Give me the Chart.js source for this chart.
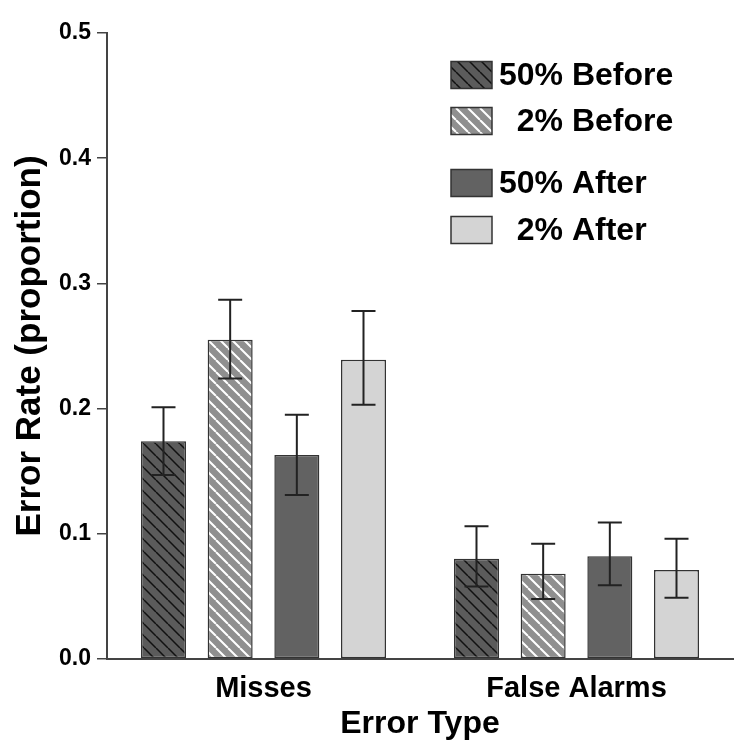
<!DOCTYPE html>
<html>
<head>
<meta charset="utf-8">
<script src="https://cdn.jsdelivr.net/npm/chart.js@4.4.1/dist/chart.umd.min.js"></script>
<style>
    html, body { margin: 0; padding: 0; background: #fff; }
    #wrap { width: 750px; height: 756px; position: relative; }
</style>
</head>
<body>
<div id="wrap"><canvas id="errorChart"></canvas></div>
<script>
// Chart data
const categories = ['Misses', 'False Alarms'];
const seriesLabels = ['50% Before', '2% Before', '50% After', '2% After'];

const fiftyBefore = [0.174, 0.080];
const twoBefore = [0.255, 0.068];
const fiftyAfter = [0.163, 0.082];
const twoAfter = [0.239, 0.071];

// error bar ends (lower / upper)
const fiftyBeforeLow = [0.147, 0.058];
const fiftyBeforeHigh = [0.201, 0.106];
const twoBeforeLow = [0.224, 0.048];
const twoBeforeHigh = [0.287, 0.092];
const fiftyAfterLow = [0.131, 0.059];
const fiftyAfterHigh = [0.195, 0.109];
const twoAfterLow = [0.203, 0.049];
const twoAfterHigh = [0.278, 0.096];

const yTicks = [0.0, 0.1, 0.2, 0.3, 0.4, 0.5];

const FONT = "'Liberation Sans', Arial, sans-serif";
const AXIS_COLOR = '#444';

function makeHatch(bg, lineColor, lineWidth) {
    const s = 12;
    const c = document.createElement('canvas');
    c.width = s;
    c.height = s;
    const g = c.getContext('2d');
    g.fillStyle = bg;
    g.fillRect(0, 0, s, s);
    g.strokeStyle = lineColor;
    g.lineWidth = lineWidth;
    g.beginPath();
    for (let k = -1; k <= 1; k++) {
        g.moveTo(k * s, 0);
        g.lineTo(k * s + s, s);
    }
    g.stroke();
    return g.createPattern(c, 'repeat');
}

const fills = [
    makeHatch('#5b5b5b', '#111', 1.5),
    makeHatch('#8f8f8f', '#fff', 2),
    '#626262',
    '#d4d4d4'
];

const errorBars = [
    { low: fiftyBeforeLow, high: fiftyBeforeHigh },
    { low: twoBeforeLow, high: twoBeforeHigh },
    { low: fiftyAfterLow, high: fiftyAfterHigh },
    { low: twoAfterLow, high: twoAfterHigh }
];

// draws the whiskers from the y scale
const errorBarPlugin = {
    id: 'errorBars',
    afterDatasetsDraw(chart) {
        const ctx = chart.ctx;
        const y = chart.scales.y;
        ctx.save();
        ctx.strokeStyle = '#222';
        ctx.lineWidth = 2;
        chart.data.datasets.forEach((ds, i) => {
            const meta = chart.getDatasetMeta(i);
            const eb = errorBars[i];
            meta.data.forEach((bar, j) => {
                const yLo = y.getPixelForValue(eb.low[j]);
                const yHi = y.getPixelForValue(eb.high[j]);
                const half = 12;
                ctx.beginPath();
                ctx.moveTo(bar.x, yLo);
                ctx.lineTo(bar.x, yHi);
                ctx.moveTo(bar.x - half, yLo);
                ctx.lineTo(bar.x + half, yLo);
                ctx.moveTo(bar.x - half, yHi);
                ctx.lineTo(bar.x + half, yHi);
                ctx.stroke();
            });
        });
        ctx.restore();
    }
};

// legend inside the plot, Before / After pairs
const insideLegendPlugin = {
    id: 'insideLegend',
    afterDraw(chart) {
        const ctx = chart.ctx;
        const boxX = 451, boxW = 41, boxH = 27, textX = 499;
        const rowY = [75, 121, 183, 230];
        ctx.save();
        ctx.font = 'bold 32px ' + FONT;
        ctx.textBaseline = 'middle';
        ctx.fillStyle = '#000';
        const ref = ctx.measureText('50%').width;
        chart.data.datasets.forEach((ds, i) => {
            const cy = rowY[i];
            ctx.fillStyle = ds.backgroundColor;
            ctx.fillRect(boxX, cy - boxH / 2, boxW, boxH);
            ctx.strokeStyle = '#333';
            ctx.lineWidth = 1.5;
            ctx.strokeRect(boxX, cy - boxH / 2, boxW, boxH);
            const head = ds.label.split(' ')[0];
            const indent = ref - ctx.measureText(head).width;
            ctx.fillStyle = '#000';
            ctx.fillText(ds.label, textX + indent, cy + 1);
        });
        ctx.restore();
    }
};

const seriesValues = [fiftyBefore, twoBefore, fiftyAfter, twoAfter];

new Chart(document.getElementById('errorChart'), {
    type: 'bar',
    data: {
        labels: categories,
        datasets: seriesLabels.map((label, i) => ({
            label: label,
            data: seriesValues[i],
            backgroundColor: fills[i],
            borderColor: '#333',
            borderWidth: 1.5,
            borderSkipped: false,
            categoryPercentage: 0.852,
            barPercentage: 0.675
        }))
    },
    options: {
        responsive: true,
        maintainAspectRatio: false,
        animation: false,
        events: [],
        layout: { padding: { top: 33, right: 17, bottom: 0, left: 0 } },
        plugins: {
            legend: { display: false },
            tooltip: { enabled: false }
        },
        scales: {
            x: {
                grid: { display: false },
                border: { display: true, color: AXIS_COLOR, width: 2 },
                ticks: {
                    color: '#000',
                    padding: 5,
                    font: { family: FONT, size: 29, weight: 'bold' }
                },
                title: {
                    display: true,
                    text: 'Error Type',
                    color: '#000',
                    padding: { top: 0, bottom: 13 },
                    font: { family: FONT, size: 32, weight: 'bold' }
                },
                afterFit(scale) { scale.height = 97; }
            },
            y: {
                min: 0,
                max: 0.5,
                afterBuildTicks(scale) {
                    scale.ticks = yTicks.map(v => ({ value: v }));
                },
                grid: {
                    display: true,
                    drawOnChartArea: false,
                    drawTicks: true,
                    tickLength: 10,
                    color: AXIS_COLOR,
                    lineWidth: 1.5
                },
                border: { display: true, color: AXIS_COLOR, width: 2 },
                ticks: {
                    color: '#000',
                    padding: 6,
                    font: { family: FONT, size: 23, weight: 'bold' },
                    callback: v => Number(v).toFixed(1)
                },
                title: {
                    display: true,
                    text: 'Error Rate (proportion)',
                    color: '#000',
                    padding: { top: 9, bottom: 0 },
                    font: { family: FONT, size: 35, weight: 'bold' }
                },
                afterFit(scale) { scale.width = 107; }
            }
        }
    },
    plugins: [errorBarPlugin, insideLegendPlugin]
});
</script>
</body>
</html>
